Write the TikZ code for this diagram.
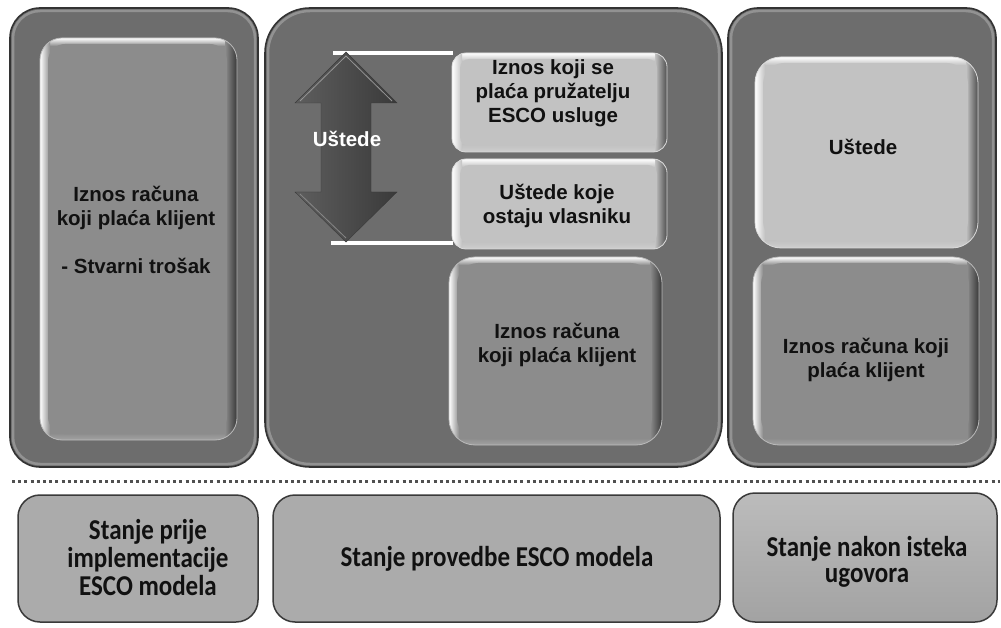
\documentclass[tikz,border=0pt]{standalone}
\usepackage{fontspec}
\setmainfont{Liberation Sans}
\newfontfamily\carl{Carlito}
\definecolor{panelc}{HTML}{6D6D6D}
\definecolor{panelline}{HTML}{333333}
\definecolor{lightc}{HTML}{C2C2C2}
\definecolor{midc}{HTML}{8C8C8C}
\definecolor{botc}{HTML}{ABABAB}
\definecolor{botline}{HTML}{3A3A3A}
\definecolor{txt}{HTML}{111111}
\definecolor{dotc}{HTML}{505050}
\definecolor{arrl}{HTML}{5E5E5E}
\definecolor{arrr}{HTML}{3A3A3A}

% x0 y0 x1 y1 radius color
\newcommand\bevbox[6]{%
  \begin{scope}
    \clip[rounded corners=#5] (#1,#2) rectangle (#3,#4);
    \fill[#6] (#1,#2) rectangle (#3,#4);
    \shade[top color=white, bottom color=#6] (#1,#2) rectangle (#3,{#2+8});
    \shade[top color=#6, bottom color=#6!80!white] (#1,{#4-7}) rectangle (#3,#4);
    \shade[left color=white, right color=#6] (#1,#2) rectangle ({#1+10},#4);
    \shade[left color=#6, right color=#6!40!black] ({#3-12},#2) rectangle (#3,#4);
    \fill[#6, rounded corners=#5-5] ({#1+8},{#2+6}) rectangle ({#3-10},{#4-6});
  \end{scope}
  \draw[#6!60!white, line width=0.8pt, rounded corners=#5] (#1,#2) rectangle (#3,#4);
}
% outer panel
\newcommand\outpanel[5]{%
  \fill[panelc, rounded corners=#5] (#1,#2) rectangle (#3,#4);
  \draw[panelc!75!white, line width=2.5pt, rounded corners=#5-3] ({#1+3},{#2+3}) rectangle ({#3-3},{#4-3});
  \draw[panelline, line width=1.6pt, rounded corners=#5] (#1,#2) rectangle (#3,#4);
}
\newcommand\tallbox[1]{\scalebox{1}[1.15]{\begin{tabular}{@{}c@{}}#1\end{tabular}}}

\tikzset{
  uptext/.style={font=\bfseries\fontsize{20.5}{24}\selectfont, text=txt, align=center, inner sep=0pt},
  bottext/.style={font=\carl\bfseries\fontsize{25}{23.3}\selectfont, text=txt, inner sep=0pt},
  botbox/.style={fill=botc, draw=botline, line width=1.5pt, rounded corners=22},
  whiteline/.style={draw=white, line width=3.4pt},
}

\begin{document}
\begin{tikzpicture}[x=1pt,y=-1pt]
\useasboundingbox[fill=white] (0,0) rectangle (1001,628);

% ---- outer panels
\outpanel{10}{8}{258}{467}{30}
\outpanel{265}{8}{722}{467}{45}
\outpanel{728}{8}{996}{467}{30}

% ---- left panel inner box
\bevbox{40}{38}{237}{440}{22}{midc}
\node[uptext] (lefttxt) at (136,230) {Iznos računa\\koji plaća klijent\\\mbox{}\\- Stvarni trošak};

% ---- middle panel
\coordinate (ltop) at (333,53);
\coordinate (lbot) at (331,243);
\coordinate (rtop) at (453,53);
\coordinate (rbot) at (453,243);
\draw[whiteline] (ltop) -- (rtop);
\draw[whiteline] (lbot) -- (rbot);

\bevbox{452}{53}{667}{152}{14}{lightc}
\bevbox{452}{159}{667}{249}{14}{lightc}
\bevbox{449}{257}{662}{445}{26}{midc}
\node[uptext] (m1) at (553,93) {Iznos koji se\\plaća pružatelju\\ESCO usluge};
\node[uptext] (m2) at (557,205.5) {Uštede koje\\ostaju vlasniku};
\node[uptext] (m3) at (557,345) {Iznos računa\\koji plaća klijent};

% double arrow
\shade[left color=arrl, right color=arrr, draw=arrr, line width=0.4pt]
  (346,52) -- (397,103) -- (371,103) -- (371,192) -- (397,192) -- (346,242)
  -- (295,192) -- (321,192) -- (321,103) -- (295,103) -- cycle;
\draw[white!35!arrl, line width=0.8pt] (300,101) -- (346,56) -- (392,101);
\draw[white!25!arrl, line width=0.8pt] (300,194) -- (346,238);
\node[font=\bfseries\fontsize{20.5}{24}\selectfont, text=white, inner sep=0pt] (arrtxt) at (347,139) {Uštede};

% ---- right panel
\bevbox{755}{57}{978}{248}{26}{lightc}
\bevbox{753}{257}{979}{445}{26}{midc}
\node[uptext] (r1) at (863,147) {Uštede};
\node[uptext] (r2) at (866,359.5) {Iznos računa koji\\plaća klijent};

% ---- dotted separator
\coordinate (dl) at (12,481);
\coordinate (dr) at (1000,481);
\draw[dotc, line width=3pt, dash pattern=on 3pt off 3.2pt] (dl) -- (dr);

% ---- bottom boxes
\draw[botbox] (18,495) rectangle (258,622);
\draw[botbox] (273,495) rectangle (720,622);
\shade[top color=botc!80!white, bottom color=botc!95!black, draw=botline, line width=1.5pt, rounded corners=22] (733,493) rectangle (997,622);
\node[bottext] (b1) at (148,561.5) {\tallbox{Stanje prije\\implementacije\\ESCO modela}};
\node[bottext] (b2) at (497,560) {\tallbox{Stanje provedbe ESCO modela}};
\node[bottext] (b3) at (867,563.5) {\tallbox{Stanje nakon isteka\\ugovora}};
\end{tikzpicture}
\end{document}
